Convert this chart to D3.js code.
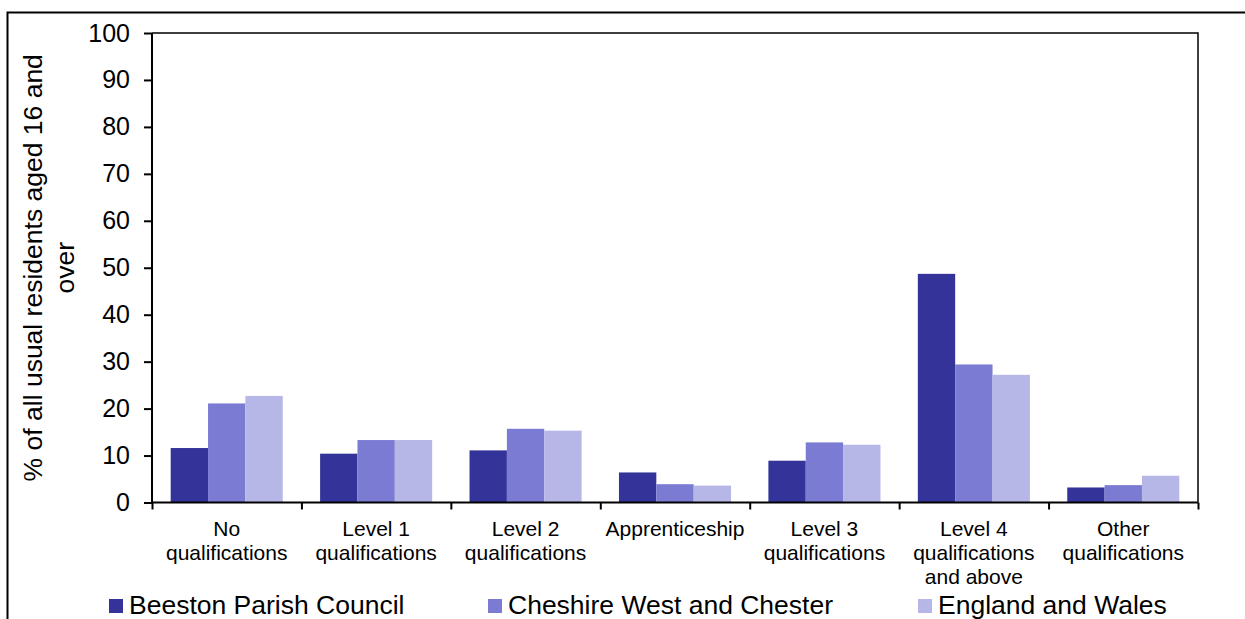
<!DOCTYPE html>
<html>
<head>
<meta charset="utf-8">
<script src="https://cdn.jsdelivr.net/npm/d3@7"></script>
<style>
  html, body { margin: 0; padding: 0; background: #fff; }
  svg { display: block; font-family: Arial, "Liberation Sans", sans-serif; }
</style>
</head>
<body>
<svg id="chart" width="1245" height="619"></svg>
<script>
const categories = [
  "No\nqualifications",
  "Level 1\nqualifications",
  "Level 2\nqualifications",
  "Apprenticeship",
  "Level 3\nqualifications",
  "Level 4\nqualifications\nand above",
  "Other\nqualifications"
];
const seriesNames = ["Beeston Parish Council", "Cheshire West and Chester", "England and Wales"];
const beeston  = [11.6, 10.4, 11.1, 6.4, 8.9, 48.7, 3.2];
const cheshire = [21.1, 13.3, 15.7, 3.9, 12.8, 29.4, 3.7];
const england  = [22.7, 13.3, 15.3, 3.6, 12.3, 27.2, 5.7];
const yTicks = [0, 10, 20, 30, 40, 50, 60, 70, 80, 90, 100];
const yTitleLines = ["% of all usual residents aged 16 and", "over"];

(function () {
const colors = ["#333399", "#7b7bd3", "#b6b6e7"];
const seriesValues = [beeston, cheshire, england];

const svg = d3.select("#chart");
const pLeft = 152, pRight = 1198, pTop = 33, pBottom = 502.5;

// outer frame
svg.append("rect").attr("x", 7.5).attr("y", 12.5).attr("width", 1300).attr("height", 700)
  .attr("fill", "none").attr("stroke", "#000").attr("stroke-width", 2);

const x0 = d3.scaleBand().domain(categories).range([pLeft, pRight])
  .paddingInner(0.25).paddingOuter(0.125);
const x1 = d3.scaleBand().domain(seriesNames).range([0, x0.bandwidth()]).padding(0);
const y = d3.scaleLinear().domain([0, 100]).range([pBottom, pTop]);

// bars
const rows = categories.map((c, i) => ({cat: c, vals: seriesNames.map((s, j) => ({s, v: seriesValues[j][i], j}))}));
const g = svg.append("g");
g.selectAll("g.cat").data(rows).join("g").attr("class", "cat")
  .attr("transform", d => `translate(${x0(d.cat)},0)`)
  .selectAll("rect").data(d => d.vals).join("rect")
  .attr("x", d => x1(d.s))
  .attr("width", x1.bandwidth())
  .attr("y", d => y(d.v))
  .attr("height", d => y(0) - y(d.v))
  .attr("fill", d => colors[d.j]);

// plot area top/right border
svg.append("path").attr("d", `M${pLeft},${pTop}H${pRight}V${pBottom}`)
  .attr("fill", "none").attr("stroke", "#000").attr("stroke-width", 1.5);

// y axis
const yAxis = svg.append("g").attr("transform", `translate(${pLeft},0)`)
  .call(d3.axisLeft(y).tickValues(yTicks).tickSize(8).tickPadding(14).tickFormat(d3.format("d")));
yAxis.select(".domain").attr("stroke", "#000").attr("stroke-width", 2).attr("d", `M0,${pTop}V${pBottom}`);
yAxis.selectAll(".tick line").attr("stroke", "#000").attr("stroke-width", 2);
yAxis.selectAll(".tick text").attr("font-size", 25).attr("fill", "#000")
  .attr("font-family", "Arial, 'Liberation Sans', sans-serif");

// x axis: boundary ticks via a linear scale over category index
const xb = d3.scaleLinear().domain([0, categories.length]).range([pLeft, pRight]);
const xAxis = svg.append("g").attr("transform", `translate(0,${pBottom})`)
  .call(d3.axisBottom(xb).tickValues(d3.range(categories.length + 1)).tickSize(7).tickFormat(""));
xAxis.select(".domain").attr("stroke", "#000").attr("stroke-width", 2).attr("d", `M${pLeft},0H${pRight}`);
xAxis.selectAll(".tick line").attr("stroke", "#000").attr("stroke-width", 2);

// x labels
const labels = svg.append("g");
categories.forEach(c => {
  const cx = x0(c) + x0.bandwidth() / 2;
  const t = labels.append("text")
    .attr("x", cx)
    .attr("y", 535.5)
    .attr("text-anchor", "middle")
    .attr("font-size", 21)
    .attr("fill", "#000");
  c.split("\n").forEach((line, k) => {
    t.append("tspan").attr("x", cx).attr("dy", k === 0 ? 0 : 24).text(line);
  });
});

// y title
const yt = svg.append("text")
  .attr("transform", `translate(42,${(pTop + pBottom) / 2}) rotate(-90)`)
  .attr("text-anchor", "middle").attr("font-size", 26.5).attr("fill", "#000");
yTitleLines.forEach((line, k) => {
  yt.append("tspan").attr("x", 0).attr("y", k * 32).text(line);
});

// legend
const legendX = [109, 488, 918];
const lg = svg.append("g");
seriesNames.forEach((s, i) => {
  lg.append("rect").attr("x", legendX[i]).attr("y", 599).attr("width", 14).attr("height", 14)
    .attr("fill", colors[i]);
  lg.append("text").attr("x", legendX[i] + 20).attr("y", 613.5)
    .attr("font-size", 26.5).attr("fill", "#000").text(s);
});
})();
</script>
</body>
</html>
